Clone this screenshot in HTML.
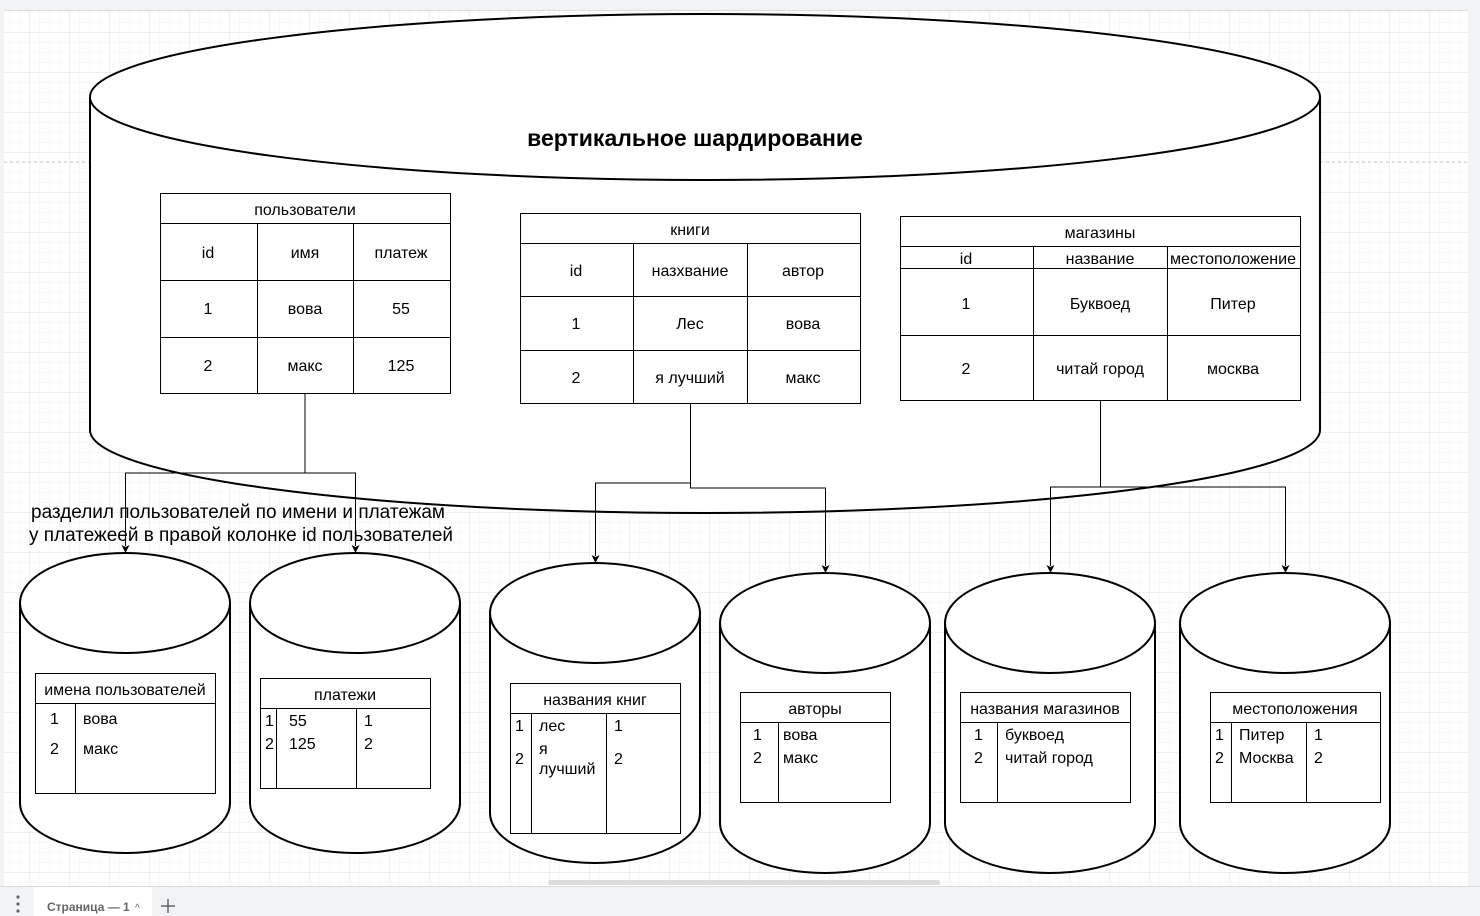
<!DOCTYPE html>
<html><head><meta charset="utf-8"><style>
html,body{margin:0;padding:0;width:1480px;height:916px;overflow:hidden;background:#fff}
svg{display:block}
text{font-family:"Liberation Sans","DejaVu Sans",sans-serif;fill:#000}
</style></head><body>
<svg width="1480" height="916" viewBox="0 0 1480 916" xmlns="http://www.w3.org/2000/svg">
<defs>
<pattern id="minor" width="10" height="10" patternUnits="userSpaceOnUse" x="0" y="3">
<path d="M10 0V10M0 10H10" stroke="#f0f0f0" stroke-width="1" fill="none"/></pattern>
<pattern id="major" width="40" height="40" patternUnits="userSpaceOnUse" x="-10" y="-7">
<path d="M40 0V40M0 40H40" stroke="#e2e2e2" stroke-width="1" fill="none"/></pattern>
</defs>
<rect x="0" y="0" width="1480" height="916" fill="url(#minor)"/>
<rect x="0" y="0" width="1480" height="916" fill="url(#major)"/>
<rect x="0" y="0" width="1480" height="10" fill="#f1f3f4"/>
<line x1="0" y1="10.5" x2="1480" y2="10.5" stroke="#dadce0"/>
<rect x="0" y="0" width="4" height="916" fill="#f1f3f4"/>
<rect x="1468" y="0" width="12" height="916" fill="#f1f3f4"/>
<line x1="4" y1="162" x2="90" y2="162" stroke="#ccc" stroke-dasharray="3,3"/>
<line x1="1320" y1="162" x2="1468" y2="162" stroke="#ccc" stroke-dasharray="3,3"/>

<!-- big cylinder -->
<g stroke="#000" stroke-width="2" fill="#fff">
<path d="M90 97 V430 A615 83 0 0 0 1320 430 V97"/>
<ellipse cx="705" cy="97" rx="615" ry="83"/>
</g>
<text x="695" y="146" font-size="23" font-weight="bold" text-anchor="middle">вертикальное шардирование</text>

<!-- connectors -->
<g stroke="#000" stroke-width="1" fill="none">
<path d="M305 393 V473 H125.5 V546"/>
<path d="M305 473 H355.5 V546"/>
<path d="M690.5 403 V483 H595.5 V556"/>
<path d="M690.5 483 V488 H825.5 V566"/>
<path d="M1100.5 400 V487 H1050.5 V566"/>
<path d="M1100 487 H1285.5 V566"/>
</g>
<g fill="#000">
<path d="M121.5 545 L125.5 553 L129.5 545 L125.5 547 Z"/>
<path d="M351.5 545 L355.5 553 L359.5 545 L355.5 547 Z"/>
<path d="M591.5 555 L595.5 563 L599.5 555 L595.5 557 Z"/>
<path d="M821.5 565 L825.5 573 L829.5 565 L825.5 567 Z"/>
<path d="M1046.5 565 L1050.5 573 L1054.5 565 L1050.5 567 Z"/>
<path d="M1281.5 565 L1285.5 573 L1289.5 565 L1285.5 567 Z"/>
</g>

<!-- users table -->
<g stroke="#000" stroke-width="1" fill="#fff">
<rect x="160.5" y="193.5" width="290" height="200"/>
<path d="M160 223.5H450M160 280.5H450M160 337.5H450M257.5 223V393M353.5 223V393" fill="none"/>
</g>
<g font-size="16" text-anchor="middle">
<text x="305" y="215">пользователи</text>
<text x="208" y="258">id</text><text x="305" y="258">имя</text><text x="401" y="258">платеж</text>
<text x="208" y="314">1</text><text x="305" y="314">вова</text><text x="401" y="314">55</text>
<text x="208" y="371">2</text><text x="305" y="371">макс</text><text x="401" y="371">125</text>
</g>

<!-- books table -->
<g stroke="#000" stroke-width="1" fill="#fff">
<rect x="520.5" y="213.5" width="340" height="190"/>
<path d="M520 243.5H860M520 296.5H860M520 350.5H860M633.5 243V403M747.5 243V403" fill="none"/>
</g>
<g font-size="16" text-anchor="middle">
<text x="690" y="235">книги</text>
<text x="576" y="276">id</text><text x="690" y="276">назхвание</text><text x="803" y="276">автор</text>
<text x="576" y="329">1</text><text x="690" y="329">Лес</text><text x="803" y="329">вова</text>
<text x="576" y="383">2</text><text x="690" y="383">я лучший</text><text x="803" y="383">макс</text>
</g>

<!-- shops table -->
<g stroke="#000" stroke-width="1" fill="#fff">
<rect x="900.5" y="216.5" width="400" height="184"/>
<path d="M900 246.5H1300M900 268.5H1300M900 335.5H1300M1033.5 246V400M1167.5 246V400" fill="none"/>
</g>
<g font-size="16" text-anchor="middle">
<text x="1100" y="238">магазины</text>
<text x="966" y="264">id</text><text x="1100" y="264">название</text><text x="1233" y="264" textLength="126" lengthAdjust="spacingAndGlyphs">местоположение</text>
<text x="966" y="309">1</text><text x="1100" y="309">Буквоед</text><text x="1233" y="309">Питер</text>
<text x="966" y="374">2</text><text x="1100" y="374">читай город</text><text x="1233" y="374">москва</text>
</g>

<g font-size="19">
<text x="31" y="518" textLength="414" lengthAdjust="spacingAndGlyphs">разделил пользователей по имени и платежам</text>
<text x="29" y="541" textLength="424" lengthAdjust="spacingAndGlyphs">у платежеей в правой колонке id пользователей</text>
</g>

<!-- small cylinders -->
<g stroke="#000" stroke-width="2" fill="#fff">
<path d="M20 603 V803 A105 50 0 0 0 230 803 V603"/><ellipse cx="125" cy="603" rx="105" ry="50"/>
<path d="M250 603 V803 A105 50 0 0 0 460 803 V603"/><ellipse cx="355" cy="603" rx="105" ry="50"/>
<path d="M490 613 V813 A105 50 0 0 0 700 813 V613"/><ellipse cx="595" cy="613" rx="105" ry="50"/>
<path d="M720 623 V823 A105 50 0 0 0 930 823 V623"/><ellipse cx="825" cy="623" rx="105" ry="50"/>
<path d="M945 623 V823 A105 50 0 0 0 1155 823 V623"/><ellipse cx="1050" cy="623" rx="105" ry="50"/>
<path d="M1180 623 V823 A105 50 0 0 0 1390 823 V623"/><ellipse cx="1285" cy="623" rx="105" ry="50"/>
</g>

<!-- small tables -->
<g stroke="#000" stroke-width="1" fill="none">
<rect x="35.5" y="673.5" width="180" height="120"/><path d="M35 703.5H215M75.5 703V793"/>
<rect x="260.5" y="678.5" width="170" height="110"/><path d="M260 708.5H430M276.5 708V788M356.5 708V788"/>
<rect x="510.5" y="683.5" width="170" height="150"/><path d="M510 713.5H680M531.5 713V833M606.5 713V833"/>
<rect x="740.5" y="692.5" width="150" height="110"/><path d="M740 722.5H890M778.5 722V802"/>
<rect x="960.5" y="692.5" width="170" height="110"/><path d="M960 722.5H1130M997.5 722V802"/>
<rect x="1210.5" y="692.5" width="170" height="110"/><path d="M1210 722.5H1380M1231.5 722V802M1306.5 722V802"/>
</g>
<g font-size="16">
<text x="125" y="695" text-anchor="middle">имена пользователей</text>
<text x="50" y="724">1</text><text x="83" y="724">вова</text>
<text x="50" y="754">2</text><text x="83" y="754">макс</text>

<text x="345" y="700" text-anchor="middle">платежи</text>
<text x="265" y="726">1</text><text x="289" y="726">55</text><text x="364" y="726">1</text>
<text x="265" y="749">2</text><text x="289" y="749">125</text><text x="364" y="749">2</text>

<text x="595" y="705" text-anchor="middle">названия книг</text>
<text x="515" y="731">1</text><text x="539" y="731">лес</text><text x="614" y="731">1</text>
<text x="539" y="754">я</text><text x="539" y="774">лучший</text>
<text x="515" y="764">2</text><text x="614" y="764">2</text>

<text x="815" y="714" text-anchor="middle">авторы</text>
<text x="753" y="740">1</text><text x="783" y="740">вова</text>
<text x="753" y="763">2</text><text x="783" y="763">макс</text>

<text x="1045" y="714" text-anchor="middle">названия магазинов</text>
<text x="974" y="740">1</text><text x="1005" y="740">буквоед</text>
<text x="974" y="763">2</text><text x="1005" y="763">читай город</text>

<text x="1295" y="714" text-anchor="middle">местоположения</text>
<text x="1215" y="740">1</text><text x="1239" y="740">Питер</text><text x="1314" y="740">1</text>
<text x="1215" y="763">2</text><text x="1239" y="763">Москва</text><text x="1314" y="763">2</text>
</g>

<!-- bottom bar -->
<rect x="548" y="880" width="392" height="5" rx="2.5" fill="#dcdcdc"/>
<rect x="0" y="886" width="1480" height="30" fill="#f1f3f4"/>
<line x1="0" y1="886.5" x2="1480" y2="886.5" stroke="#dadce0"/>
<rect x="34" y="887" width="118" height="29" fill="#fff"/>
<circle cx="18" cy="897" r="1.6" fill="#666"/><circle cx="18" cy="904" r="1.6" fill="#666"/><circle cx="18" cy="911" r="1.6" fill="#666"/>
<text x="47" y="911" font-size="12" font-weight="bold" style="fill:#666">Страница — 1</text>
<text x="135" y="911" font-size="10" style="fill:#666">^</text>
<path d="M168 899V913M161 906H175" stroke="#666" stroke-width="1.5"/>
</svg>
</body></html>
